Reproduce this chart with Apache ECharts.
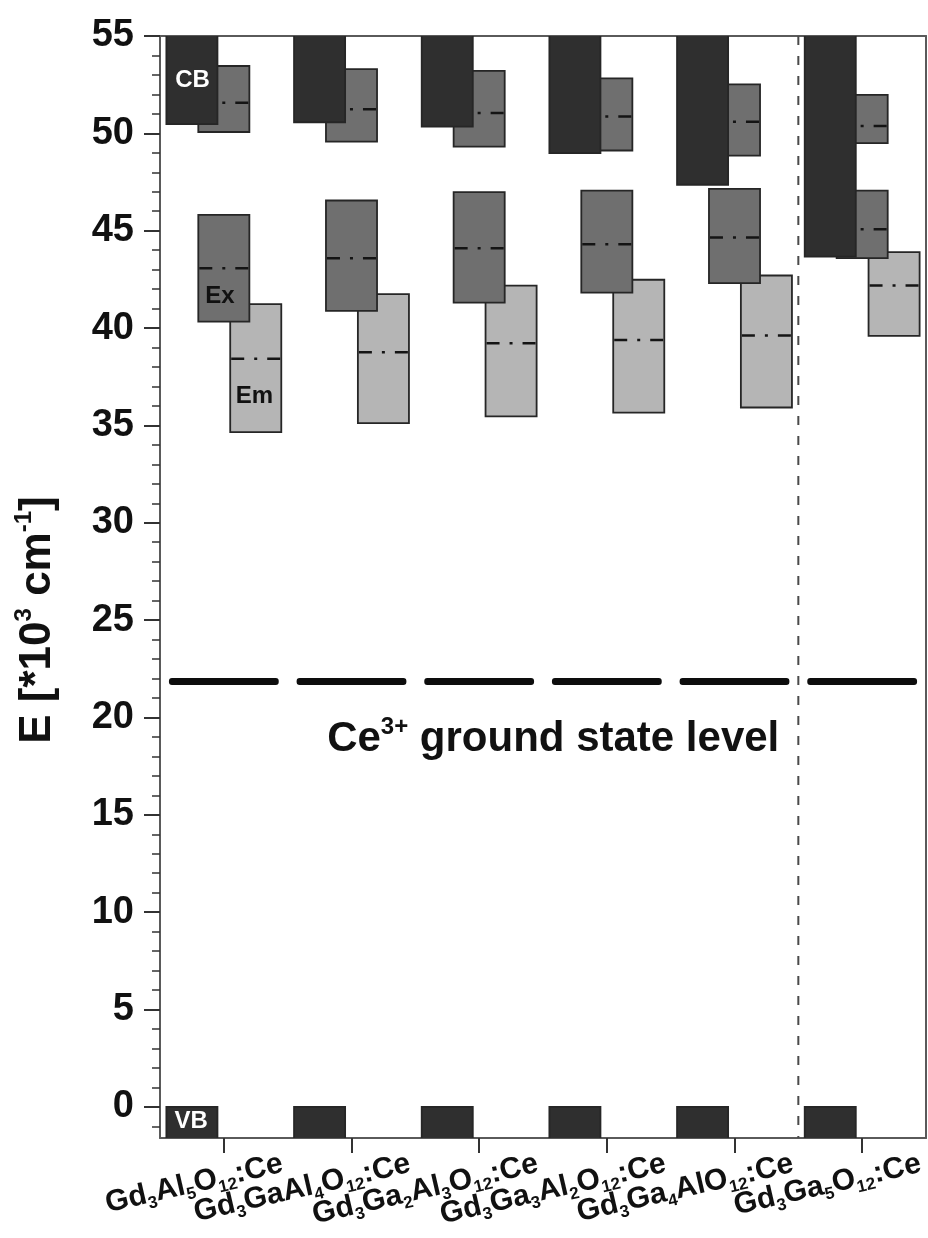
<!DOCTYPE html>
<html>
<head>
<meta charset="utf-8">
<script src="https://cdn.jsdelivr.net/npm/echarts@6/dist/echarts.min.js"></script>
<style>
  html, body { margin: 0; padding: 0; background: #ffffff; }
  #chart { width: 928px; height: 1238px; }
</style>
</head>
<body>
<div id="chart"></div>
<script>
// Garnet hosts (x positions 1..6), written with rich-text subscripts
const compounds = [
  'Gd{s|3}Al{s|5}O{s|12}:Ce',
  'Gd{s|3}GaAl{s|4}O{s|12}:Ce',
  'Gd{s|3}Ga{s|2}Al{s|3}O{s|12}:Ce',
  'Gd{s|3}Ga{s|3}Al{s|2}O{s|12}:Ce',
  'Gd{s|3}Ga{s|4}AlO{s|12}:Ce',
  'Gd{s|3}Ga{s|5}O{s|12}:Ce'
];
const positions = [1, 2, 3, 4, 5, 6];
// The long slanted names overlap their neighbours, so odd and even
// positions are labelled by two coincident bottom axes.
const labelsOdd = [1, 3, 5];
const labelsEven = [2, 4, 6];

// Energies in 10^3 cm^-1
const cbBottom = [50.47, 50.57, 50.35, 48.98, 47.36, 43.67];
const cbTop    = [56, 56, 56, 56, 56, 56];
const vbBottom = [-2, -2, -2, -2, -2, -2];
const vbTop    = [0, 0, 0, 0, 0, 0];

// 5d2 excitation band (inside the conduction band region)
const ex2Bottom = [50.07, 49.58, 49.32, 49.12, 48.86, 49.50];
const ex2Top    = [53.46, 53.30, 53.21, 52.82, 52.52, 51.98];
const ex2Peak   = [51.57, 51.24, 51.04, 50.86, 50.60, 50.38];

// 5d1 excitation band
const ex1Bottom = [40.33, 40.88, 41.31, 41.82, 42.31, 43.59];
const ex1Top    = [45.81, 46.55, 46.98, 47.06, 47.15, 47.06];
const ex1Peak   = [43.07, 43.59, 44.10, 44.30, 44.65, 45.08];

// Emission band
const emBottom = [34.65, 35.12, 35.46, 35.66, 35.92, 39.60];
const emTop    = [41.23, 41.74, 42.18, 42.48, 42.70, 43.90];
const emPeak   = [38.42, 38.76, 39.22, 39.39, 39.62, 42.18];

// Ce3+ 4f ground state
const groundState = [21.84, 21.84, 21.84, 21.84, 21.84, 21.84];

// Separator between Al-containing hosts and the pure gallate
const separatorAt = [5.5];

// Axis ticks
const yMajorTicks = [0, 5, 10, 15, 20, 25, 30, 35, 40, 45, 50, 55];
const yMinorTicks = [];
for (let v = -1; v <= 55; v++) yMinorTicks.push(v);

// In-plot band labels
const bandLabels = ['CB', 'Ex', 'Em', 'VB'];
const bandLabelX = [0.755, 0.97, 1.24, 0.745];
const bandLabelY = [52.7, 41.65, 36.5, -0.77];
const bandLabelColor = ['#ffffff', '#111111', '#111111', '#ffffff'];

const CB_OFFSET = -0.25, EX_OFFSET = 0, EM_OFFSET = 0.25;
const BOX_HALF = 0.2;
const GS_HALF = 0.43;

const FONT = '"Liberation Sans", Arial, Helvetica, sans-serif';

function boxRows(offset, lo, hi, pk) {
  return positions.map((p, i) => pk ? [p + offset, lo[i], hi[i], pk[i]] : [p + offset, lo[i], hi[i]]);
}

function boxRenderer(fill, withPeak) {
  return function (params, api) {
    const x = api.value(0);
    const p0 = api.coord([x - BOX_HALF, api.value(2)]);
    const p1 = api.coord([x + BOX_HALF, api.value(1)]);
    const children = [{
      type: 'rect',
      shape: { x: p0[0], y: p0[1], width: p1[0] - p0[0], height: p1[1] - p0[1] },
      style: { fill: fill, stroke: '#262626', lineWidth: 1.8 }
    }];
    if (withPeak) {
      const pk = api.coord([x, api.value(3)]);
      children.push({
        type: 'line',
        shape: { x1: p0[0] + 1, y1: pk[1], x2: p1[0] - 1, y2: pk[1] },
        style: { stroke: '#141414', lineWidth: 2.5, lineDash: [13, 10, 3, 10] }
      });
    }
    return { type: 'group', children: children };
  };
}

function nameLabel(values) {
  return {
    show: true, customValues: values, rotate: 13, margin: 39,
    showMinLabel: true, showMaxLabel: true, hideOverlap: false,
    padding: [0, -60, 0, 0],
    formatter: v => compounds[Math.round(v) - 1],
    fontFamily: FONT, fontSize: 30, fontWeight: 'bold', color: '#111', lineHeight: 36,
    rich: {
      s: { fontFamily: FONT, fontSize: 17, fontWeight: 'bold', color: '#111', lineHeight: 10, verticalAlign: 'bottom' }
    }
  };
}

const chart = echarts.init(document.getElementById('chart'), null, { renderer: 'canvas' });

const option = {
  backgroundColor: '#ffffff',
  animation: false,
  grid: { left: 160, right: 2, top: 36, bottom: 100 },
  xAxis: [{
    type: 'value', min: 0.5, max: 6.5, position: 'bottom',
    axisLine: { show: true, onZero: false, lineStyle: { color: '#5a5a5a', width: 2 } },
    axisTick: { show: true, customValues: positions, length: 15, lineStyle: { color: '#333', width: 2 } },
    axisLabel: nameLabel(labelsOdd),
    splitLine: { show: false }
  }, {
    type: 'value', min: 0.5, max: 6.5, position: 'bottom',
    axisLine: { show: false }, axisTick: { show: false },
    axisLabel: nameLabel(labelsEven),
    splitLine: { show: false }
  }, {
    type: 'value', min: 0.5, max: 6.5, position: 'top',
    axisLine: { show: true, onZero: false, lineStyle: { color: '#5a5a5a', width: 2 } },
    axisTick: { show: false }, axisLabel: { show: false }, splitLine: { show: false }
  }],
  yAxis: [{
    type: 'value', min: -1.6, max: 55, position: 'left',
    axisLine: { show: true, onZero: false, lineStyle: { color: '#5a5a5a', width: 2 } },
    axisTick: { show: true, customValues: yMajorTicks, length: 16, lineStyle: { color: '#333', width: 2 } },
    axisLabel: {
      show: true, customValues: yMajorTicks, margin: 26,
      showMinLabel: true, showMaxLabel: true,
      fontFamily: FONT, fontSize: 38, fontWeight: 'bold', color: '#111'
    },
    splitLine: { show: false },
    name: 'E [*10{sup|3} cm{sup|-1}]',
    nameLocation: 'middle', nameRotate: 90, nameGap: 96,
    nameTextStyle: {
      fontFamily: FONT, fontSize: 44, fontWeight: 'bold', color: '#111', lineHeight: 52,
      padding: [0, 66, 0, 0],
      rich: { sup: { fontFamily: FONT, fontSize: 24, fontWeight: 'bold', color: '#111', lineHeight: 18, verticalAlign: 'top' } }
    }
  }, {
    type: 'value', min: -1.6, max: 55, position: 'left',
    axisLine: { show: false },
    axisTick: { show: true, customValues: yMinorTicks, length: 8, lineStyle: { color: '#333', width: 1.5 } },
    axisLabel: { show: false }, splitLine: { show: false }
  }, {
    type: 'value', min: -1.6, max: 55, position: 'right',
    axisLine: { show: true, onZero: false, lineStyle: { color: '#5a5a5a', width: 2 } },
    axisTick: { show: false }, axisLabel: { show: false }, splitLine: { show: false }
  }],
  series: [
    {
      name: 'Emission', type: 'custom', clip: true,
      renderItem: boxRenderer('#b5b5b5', true),
      encode: { x: 0, y: [1, 2] },
      data: boxRows(EM_OFFSET, emBottom, emTop, emPeak), z: 2
    },
    {
      name: 'Excitation 5d1', type: 'custom', clip: true,
      renderItem: boxRenderer('#6f6f6f', true),
      encode: { x: 0, y: [1, 2] },
      data: boxRows(EX_OFFSET, ex1Bottom, ex1Top, ex1Peak), z: 3
    },
    {
      name: 'Excitation 5d2', type: 'custom', clip: true,
      renderItem: boxRenderer('#6f6f6f', true),
      encode: { x: 0, y: [1, 2] },
      data: boxRows(EX_OFFSET, ex2Bottom, ex2Top, ex2Peak), z: 3
    },
    {
      name: 'Conduction band', type: 'custom', clip: true,
      renderItem: boxRenderer('#2f2f2f', false),
      encode: { x: 0, y: [1, 2] },
      data: boxRows(CB_OFFSET, cbBottom, cbTop), z: 4
    },
    {
      name: 'Valence band', type: 'custom', clip: true,
      renderItem: boxRenderer('#2f2f2f', false),
      encode: { x: 0, y: [1, 2] },
      data: boxRows(CB_OFFSET, vbBottom, vbTop), z: 4
    },
    {
      name: 'Ce3+ ground state', type: 'custom', clip: true,
      renderItem: function (params, api) {
        const x = api.value(0);
        const a = api.coord([x - GS_HALF, api.value(1)]);
        const b = api.coord([x + GS_HALF, api.value(1)]);
        return {
          type: 'rect',
          shape: { x: a[0], y: a[1] - 3.5, width: b[0] - a[0], height: 7, r: 3 },
          style: { fill: '#0d0d0d' }
        };
      },
      encode: { x: 0, y: 1 },
      data: positions.map((p, i) => [p, groundState[i]]), z: 5
    },
    {
      name: 'Separator', type: 'custom', clip: true,
      renderItem: function (params, api) {
        const top = api.coord([api.value(0), 55]);
        const bot = api.coord([api.value(0), -1.6]);
        return {
          type: 'line',
          shape: { x1: top[0], y1: top[1], x2: bot[0], y2: bot[1] },
          style: { stroke: '#4a4a4a', lineWidth: 2, lineDash: [9, 11] }
        };
      },
      encode: { x: 0 },
      data: separatorAt.map(v => [v]), z: 1
    },
    {
      name: 'Band labels', type: 'custom', clip: false,
      renderItem: function (params, api) {
        const i = params.dataIndex;
        const pt = api.coord([api.value(0), api.value(1)]);
        return {
          type: 'text', x: pt[0], y: pt[1],
          style: {
            text: bandLabels[i], fill: bandLabelColor[i],
            font: 'bold 24px ' + FONT, align: 'center', verticalAlign: 'middle'
          },
          z2: 10
        };
      },
      encode: { x: 0, y: 1 },
      data: bandLabelX.map((x, i) => [x, bandLabelY[i]]), z: 10
    },
    {
      name: 'Ground state caption', type: 'custom', clip: false,
      renderItem: function (params, api) {
        const pt = api.coord([api.value(0), api.value(1)]);
        return {
          type: 'text', x: pt[0], y: pt[1],
          style: {
            text: 'Ce{sup|3+} ground state level',
            fill: '#111', font: 'bold 42px ' + FONT,
            align: 'center', verticalAlign: 'middle', lineHeight: 48,
            rich: { sup: { font: 'bold 24px ' + FONT, fill: '#111', lineHeight: 18, verticalAlign: 'top' } }
          },
          z2: 10
        };
      },
      encode: { x: 0, y: 1 },
      data: [[3.58, 18.85]], z: 10
    }
  ]
};

chart.setOption(option);
</script>
</body>
</html>
